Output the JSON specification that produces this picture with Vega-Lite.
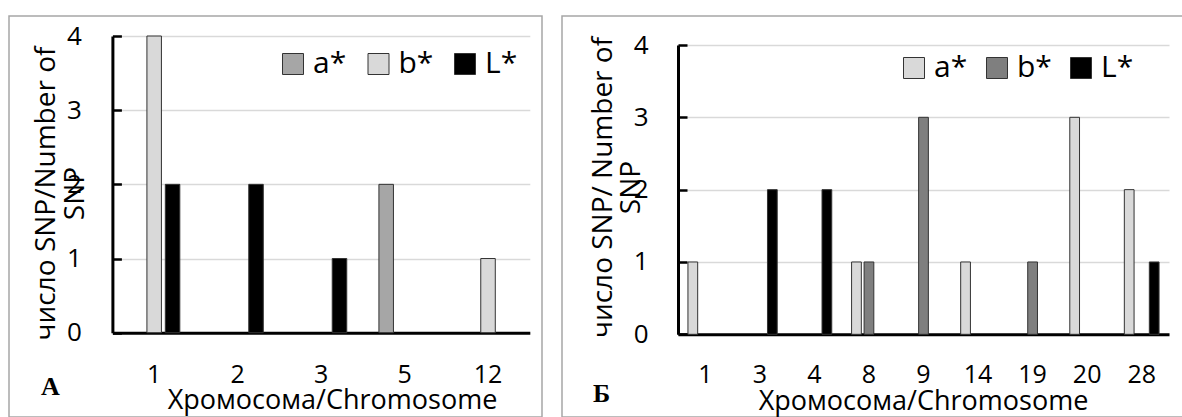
{
  "$schema": "https://vega.github.io/schema/vega-lite/v6.json",
  "padding": {"left": 8, "top": 15, "right": 0, "bottom": 0},
  "background": "white",
  "spacing": 18,
  "config": {
    "font": "Open Sans",
    "view": {"stroke": "#a6a6a6", "strokeWidth": 1.5},
    "axis": {"labelColor": "black", "titleColor": "black", "titleFontWeight": "normal", "labelFont": "Open Sans", "titleFont": "Open Sans"},
    "legend": {"labelColor": "black", "labelFont": "Open Sans", "padding": 0}
  },
  "resolve": {"scale": {"color": "independent", "x": "independent", "xOffset": "independent", "y": "independent"}, "legend": {"color": "independent"}},
  "hconcat": [
    {
      "width": 533,
      "height": 401,
      "title": {"text": "A", "orient": "bottom", "anchor": "start", "font": "Liberation Serif", "fontWeight": "bold", "fontSize": 26, "offset": -22, "dx": 32, "baseline": "alphabetic", "color": "black"},
      "data": {"values": [
        {"chromosome": "1", "trait": "b*", "count": 4},
        {"chromosome": "1", "trait": "L*", "count": 2},
        {"chromosome": "2", "trait": "L*", "count": 2},
        {"chromosome": "3", "trait": "L*", "count": 1},
        {"chromosome": "5", "trait": "a*", "count": 2},
        {"chromosome": "12", "trait": "b*", "count": 1}
      ]},
      "mark": {"type": "bar", "stroke": "#333333", "strokeWidth": 1},
      "encoding": {
        "x": {"field": "chromosome", "type": "nominal", "sort": ["1", "2", "3", "5", "12"],
          "scale": {"domain": ["1", "2", "3", "5", "12"], "range": [103.4, 520.8], "paddingInner": 0.339, "paddingOuter": 0.17},
          "axis": {"labelAngle": 0, "offset": -84.3, "domainColor": "black", "domainWidth": 3, "ticks": false, "labelFontSize": 25, "labelBaseline": "middle", "labelPadding": 42,
            "title": "Хромосома/Chromosome", "titleFontSize": 27, "titleBaseline": "middle", "titleX": 323, "titleY": 68}},
        "xOffset": {"field": "trait", "type": "nominal", "scale": {"domain": ["a*", "b*", "L*"], "paddingInner": 0.21, "paddingOuter": 0.105}},
        "y": {"field": "count", "type": "quantitative",
          "scale": {"domain": [0, 4], "range": [316.7, 20], "nice": false},
          "axis": {"values": [0, 1, 2, 3, 4], "offset": -103.4, "domainColor": "black", "domainWidth": 3, "ticks": true, "tickSize": -9, "tickColor": "black", "tickWidth": 2.5,
            "grid": true, "gridColor": "#d9d9d9", "gridWidth": 1.5, "labelFontSize": 26, "labelPadding": 40, "labelBaseline": "middle",
            "title": ["число SNP/Number of", "SNP"], "titleFontSize": 28, "titleBaseline": "middle", "titleLineHeight": 29, "titleX": -66.4, "titleY": 177}},
        "color": {"field": "trait", "type": "nominal",
          "scale": {"domain": ["a*", "b*", "L*"], "range": ["#a6a6a6", "#d9d9d9", "#000000"]},
          "legend": {"orient": "none", "legendX": 269, "legendY": 33, "direction": "horizontal", "title": null, "symbolType": "square", "symbolSize": 441, "symbolStrokeColor": "#333333", "symbolStrokeWidth": 1, "symbolOpacity": 1, "labelFontSize": 30, "labelOffset": 5, "columnPadding": 16.5}}
      }
    },
    {
      "width": 622,
      "height": 401,
      "title": {"text": "Б", "orient": "bottom", "anchor": "start", "font": "Liberation Serif", "fontWeight": "bold", "fontSize": 26, "offset": -15, "dx": 31, "baseline": "alphabetic", "color": "black"},
      "data": {"values": [
        {"chromosome": "1", "trait": "a*", "count": 1},
        {"chromosome": "3", "trait": "L*", "count": 2},
        {"chromosome": "4", "trait": "L*", "count": 2},
        {"chromosome": "8", "trait": "a*", "count": 1},
        {"chromosome": "8", "trait": "b*", "count": 1},
        {"chromosome": "9", "trait": "b*", "count": 3},
        {"chromosome": "14", "trait": "a*", "count": 1},
        {"chromosome": "19", "trait": "b*", "count": 1},
        {"chromosome": "20", "trait": "a*", "count": 3},
        {"chromosome": "28", "trait": "a*", "count": 2},
        {"chromosome": "28", "trait": "L*", "count": 1}
      ]},
      "mark": {"type": "bar", "stroke": "#333333", "strokeWidth": 1},
      "encoding": {
        "x": {"field": "chromosome", "type": "nominal", "sort": ["1", "3", "4", "8", "9", "14", "19", "20", "28"],
          "scale": {"domain": ["1", "3", "4", "8", "9", "14", "19", "20", "28"], "range": [116, 607], "paddingInner": 0.313, "paddingOuter": 0.157},
          "axis": {"labelAngle": 0, "offset": -82.7, "domainColor": "black", "domainWidth": 3, "ticks": false, "labelFontSize": 25, "labelBaseline": "middle", "labelPadding": 40,
            "title": "Хромосома/Chromosome", "titleFontSize": 27, "titleBaseline": "middle", "titleX": 361, "titleY": 67}},
        "xOffset": {"field": "trait", "type": "nominal", "scale": {"domain": ["a*", "b*", "L*"], "paddingInner": 0.22, "paddingOuter": 0.11}},
        "y": {"field": "count", "type": "quantitative",
          "scale": {"domain": [0, 4], "range": [318.3, 29], "nice": false},
          "axis": {"values": [0, 1, 2, 3, 4], "offset": -116, "domainColor": "black", "domainWidth": 3, "ticks": true, "tickSize": -9, "tickColor": "black", "tickWidth": 2.5,
            "grid": true, "gridColor": "#d9d9d9", "gridWidth": 1.5, "labelFontSize": 26, "labelPadding": 39, "labelBaseline": "middle",
            "title": ["число SNP/ Number of", "SNP"], "titleFontSize": 28, "titleBaseline": "middle", "titleLineHeight": 28, "titleX": -75, "titleY": 171}},
        "color": {"field": "trait", "type": "nominal",
          "scale": {"domain": ["a*", "b*", "L*"], "range": ["#d9d9d9", "#7f7f7f", "#000000"]},
          "legend": {"orient": "none", "legendX": 337, "legendY": 37, "direction": "horizontal", "title": null, "symbolType": "square", "symbolSize": 441, "symbolStrokeColor": "#333333", "symbolStrokeWidth": 1, "symbolOpacity": 1, "labelFontSize": 30, "labelOffset": 5, "columnPadding": 14}}
      }
    }
  ]
}
